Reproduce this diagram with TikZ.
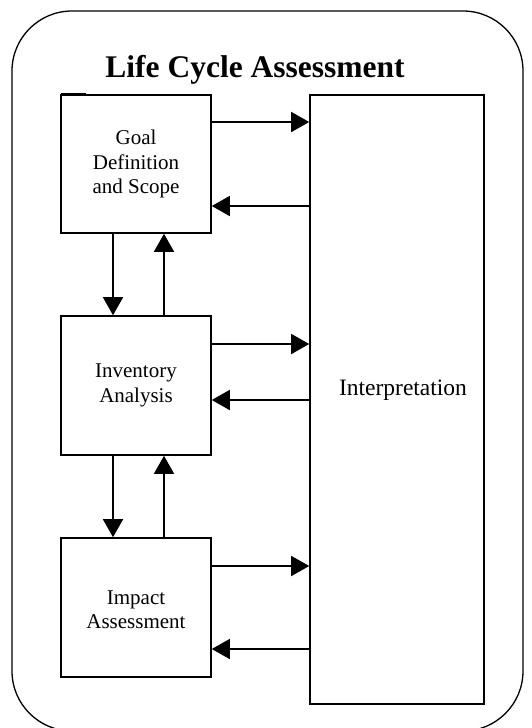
\documentclass[tikz,border=0pt]{standalone}
\usepackage{fontspec}
\setmainfont{Liberation Serif}
\usetikzlibrary{arrows.meta}
\begin{document}
\begin{tikzpicture}[x=1pt,y=-1pt,
  stagebox/.style={draw,line width=1.6pt,minimum width=150pt,minimum height=138pt,inner sep=0pt,align=center,font=\fontsize{21}{24.5}\selectfont},
  arr/.style={line width=1.6pt,-{Triangle[length=18pt,width=20pt]}}]
\useasboundingbox (0,0) rectangle (531,728);
\draw[line width=1.3pt,rounded corners=60pt] (12,11) rectangle (523,731);
\node[anchor=base,font=\fontsize{31.5}{36}\selectfont\bfseries] (title) at (255,77) {Life Cycle Assessment};
\node[stagebox] (goal) at (136,164) {Goal\\Definition\\and Scope};
\node[stagebox,minimum height=139pt] (inv) at (136,385.5) {Inventory\\Analysis};
\node[stagebox,minimum height=139pt] (imp) at (136,607.5) {\\[-6pt]Impact\\Assessment};
\node[draw,line width=1.6pt,minimum width=174pt,minimum height=609pt,inner sep=0pt] (interp) at (397,399.5) {};
\node[font=\fontsize{23.5}{27}\selectfont] (interptext) at (403,390) {Interpretation};
\coordinate (stubA) at (61,93.3);
\coordinate (stubB) at (86,93.3);
\draw[line width=1.2pt] (stubA) -- (stubB);
% horizontal arrows
\draw[arr] ([yshift=42pt]goal.east) -- ([yshift=42pt]goal.east -| interp.west);
\draw[arr] ([yshift=-42pt]goal.east -| interp.west) -- ([yshift=-42pt]goal.east);
\draw[arr] ([yshift=41.5pt]inv.east) -- ([yshift=41.5pt]inv.east -| interp.west);
\draw[arr] ([yshift=-14.5pt]inv.east -| interp.west) -- ([yshift=-14.5pt]inv.east);
\draw[arr] ([yshift=41.5pt]imp.east) -- ([yshift=41.5pt]imp.east -| interp.west);
\draw[arr] ([yshift=-41.5pt]imp.east -| interp.west) -- ([yshift=-41.5pt]imp.east);
% vertical arrows
\draw[arr] ([xshift=-23pt]goal.south) -- ([xshift=-23pt]inv.north);
\draw[arr] ([xshift=28pt]inv.north) -- ([xshift=28pt]goal.south);
\draw[arr] ([xshift=-23pt]inv.south) -- ([xshift=-23pt]imp.north);
\draw[arr] ([xshift=28pt]imp.north) -- ([xshift=28pt]inv.south);
\end{tikzpicture}
\end{document}
